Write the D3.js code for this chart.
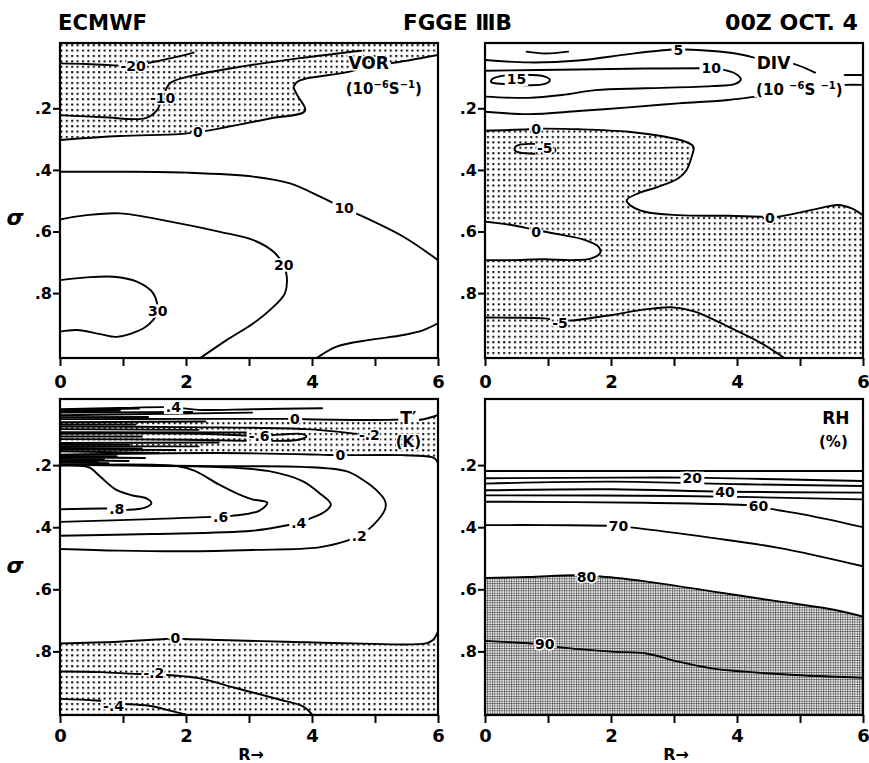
<!DOCTYPE html>
<html><head><meta charset="utf-8">
<script src="https://cdn.jsdelivr.net/npm/d3@7"></script>
<style>
body{margin:0;background:#fff;}
svg text{font-family:"DejaVu Sans",sans-serif;font-weight:bold;fill:#000;}
.cl{font-size:14px;}
.pl{font-size:17px;}
.un{font-size:15px;}
.halo{stroke:#fff;stroke-width:3px;paint-order:stroke;stroke-linejoin:round;}
</style></head><body>
<script>
// ---------------- DATA ----------------
const TITLES = ["ECMWF", "FGGE \u2162B", "00Z OCT. 4"];
const R_TICKS = [0, 1, 2, 3, 4, 5, 6];
const R_TICK_LABELS = ["0", "", "2", "", "4", "", "6"];
const SIGMA_TICKS = [0.2, 0.4, 0.6, 0.8];
const SIGMA_TICK_LABELS = [".2", ".4", ".6", ".8"];

// VOR (10^-6 s^-1) contours, points are [R, sigma]
const vorM20 = [[0,0.054],[0.42,0.056],[0.90,0.061],[1.16,0.064],[1.38,0.054],[1.75,0.038],[2.12,0.019]];
const vorM10 = [[0,0.222],[0.69,0.229],[1.36,0.232],[1.54,0.206],[1.63,0.163],[1.75,0.118],[2.02,0.098],[2.75,0.069],[3.81,0.037],[4.78,0.013]];
const vor0   = [[0,0.303],[0.95,0.290],[1.90,0.284],[2.19,0.277],[2.54,0.265],[3.33,0.233],[3.89,0.208],[3.78,0.162],[3.71,0.130],[3.78,0.112],[3.92,0.103],[4.60,0.081],[4.92,0.060],[5.24,0.054],[6,0.027]];
const vor10  = [[0,0.406],[0.95,0.406],[2.01,0.409],[3.07,0.422],[3.65,0.444],[4.13,0.487],[4.51,0.525],[4.76,0.547],[5.45,0.617],[6,0.693]];
const vor20  = [[0,0.561],[0.42,0.547],[0.95,0.541],[1.75,0.568],[2.54,0.601],[3.07,0.628],[3.39,0.666],[3.55,0.709],[3.60,0.747],[3.57,0.801],[3.39,0.844],[3.07,0.898],[2.65,0.952],[2.22,1.012]];
const vor30  = [[0,0.758],[0.42,0.749],[0.85,0.747],[1.22,0.763],[1.48,0.801],[1.55,0.858],[1.48,0.887],[1.32,0.915],[0.90,0.942],[0.64,0.933],[0.27,0.920],[0,0.925]];
const vor10b = [[4.07,1.012],[4.39,0.974],[4.92,0.952],[5.45,0.936],[5.77,0.920],[6,0.898]];

// DIV (10^-6 s^-1)
const divTop  = [[0.66,0.016],[0.95,0.022],[1.32,0.016]];
const div5a   = [[0,0.043],[0.69,0.051],[1.48,0.045],[2.28,0.024],[2.96,0.009],[3.07,0.009],[3.18,0.009],[3.86,0.019],[4.21,0.032],[4.58,0.050],[4.87,0.054],[5.24,0.084]];
const div5aEnd= [[5.71,0.092],[6,0.092]];
const div10   = [[0,0.078],[1.48,0.074],[2.54,0.071],[3.39,0.070],[3.60,0.070],[3.76,0.074],[3.97,0.087],[4.06,0.106],[3.97,0.121],[3.60,0.128],[2.54,0.135],[1.75,0.141],[1.22,0.157],[0.69,0.166],[0,0.162]];
const div15   = [[0.11,0.106],[0.30,0.094],[0.95,0.097],[1.03,0.108],[0.95,0.121],[0.30,0.121],[0.10,0.115]];
const div5b   = [[0,0.211],[0.69,0.219],[1.48,0.209],[2.28,0.197],[3.07,0.184],[3.86,0.173],[4.29,0.162],[5.0,0.140],[5.71,0.124],[6,0.124]];
const div0a   = [[0,0.273],[0.69,0.268],[0.81,0.266],[0.95,0.266],[1.48,0.268],[2.28,0.276],[2.80,0.290],[3.18,0.308],[3.31,0.325],[3.28,0.357],[3.20,0.400],[3.07,0.427],[2.75,0.455],[2.43,0.476],[2.25,0.498],[2.30,0.514],[2.54,0.536],[3.07,0.547],[3.86,0.549],[4.39,0.552],[4.52,0.555],[4.66,0.552],[5.19,0.530],[5.61,0.514],[5.82,0.525],[6,0.547]];
const divM5loop = [[0.48,0.325],[0.58,0.317],[0.95,0.319],[1.11,0.330],[1.11,0.341],[0.95,0.346],[0.64,0.346],[0.48,0.338]];
const div0b   = [[0,0.568],[0.42,0.579],[0.81,0.595],[1.22,0.611],[1.59,0.628],[1.80,0.649],[1.83,0.669],[1.69,0.687],[1.38,0.693],[0.95,0.690],[0.42,0.693],[0,0.693]];
const divM5   = [[0,0.879],[0.42,0.880],[0.95,0.882],[1.19,0.890],[1.43,0.888],[2.01,0.871],[2.54,0.853],[2.96,0.846],[3.33,0.860],[3.86,0.909],[4.39,0.963],[4.76,1.012]];

// T' (K)
const t04top = [[0,0.020],[0.93,0.016],[1.80,0.014],[2.2,0.022],[3.05,0.020],[4.16,0.017]];
const tCluster = [
  [[0,0.0224],[1.25,0.0181]], [[0,0.0265],[0.95,0.0250]], [[0,0.0309],[2.10,0.0288]], [[0,0.0394],[3.05,0.0309]],
  [[0,0.0455],[1.40,0.0450]], [[0,0.0618],[2.31,0.0597]], [[0,0.0690],[1.20,0.0690]],
  [[0,0.0842],[2.20,0.0864]], [[0,0.0938],[3.00,0.0949]], [[0,0.1080],[1.30,0.1080]],
  [[0,0.129],[2.52,0.127]], [[0,0.1350],[1.10,0.1350]], [[0,0.1397],[2.20,0.1397]],
  [[0,0.1450],[1.30,0.1460]], [[0,0.1503],[1.83,0.1514]], [[0,0.1556],[1.57,0.161]],
  [[0,0.1705],[0.90,0.1715]], [[0,0.1748],[1.35,0.177]], [[0,0.1800],[0.70,0.1810]],
  [[0,0.1844],[1.09,0.1866]], [[0,0.1880],[0.60,0.1890]], [[0,0.1919],[0.77,0.194]]
];
const t0up  = [[0,0.052],[1.99,0.0512],[3.58,0.0512],[3.73,0.0512],[3.90,0.0522],[5.23,0.0544],[5.53,0.052],[5.70,0.0544],[5.89,0.046],[6,0.0384]];
const tM02  = [[0,0.0757],[1.99,0.0778],[3.90,0.0842],[4.70,0.0992],[4.91,0.1045]];
const tM06  = [[0,0.099],[2.20,0.099],[3.00,0.1055],[3.16,0.1077],[3.48,0.102],[3.85,0.100],[3.91,0.1077],[3.79,0.1183],[3.05,0.1215],[1.99,0.1183],[0,0.1162]];
const t0low = [[0,0.1663],[2.52,0.161],[4.11,0.1663],[4.40,0.168],[4.59,0.168],[5.44,0.168],[5.81,0.1716],[5.94,0.177],[6,0.193]];
const t08   = [[0,0.342],[0.77,0.340],[0.90,0.342],[1.09,0.344],[1.35,0.337],[1.45,0.323],[1.38,0.308],[1.14,0.297],[0.88,0.278],[0.66,0.241],[0.48,0.209],[0.40,0.2036],[0,0.2015]];
const t06   = [[0,0.3827],[1.46,0.374],[2.41,0.3667],[2.55,0.3667],[2.73,0.3635],[3.16,0.3475],[3.29,0.3209],[3.05,0.3102],[2.84,0.2942],[2.52,0.2623],[2.15,0.2196],[1.88,0.2036],[0,0.2004]];
const t04   = [[0,0.4275],[1.46,0.422],[3.05,0.4115],[3.63,0.393],[3.79,0.387],[3.95,0.374],[4.22,0.3475],[4.30,0.3262],[4.11,0.289],[3.85,0.2516],[3.32,0.2196],[2.79,0.209],[1.99,0.2036],[0,0.1994]];
const t02   = [[0,0.470],[0.93,0.4755],[1.99,0.4776],[3.05,0.4733],[4.11,0.465],[4.56,0.4435],[4.75,0.4275],[4.96,0.3955],[5.16,0.342],[5.16,0.3156],[5.01,0.2783],[4.80,0.2463],[4.54,0.2196],[3.85,0.2058],[2.52,0.2036],[0,0.197]];
const t0bot = [[0,0.774],[0.93,0.7687],[1.67,0.760],[1.83,0.758],[1.99,0.760],[2.52,0.7633],[3.58,0.7687],[4.64,0.774],[5.81,0.774],[5.92,0.7633],[6,0.7367]];
const tM02b = [[0,0.8646],[0.66,0.8667],[1.30,0.873],[1.49,0.871],[1.67,0.875],[2.20,0.886],[2.79,0.918],[3.48,0.955],[3.85,0.9765],[4.0,1.003]];
const tM04  = [[0,0.953],[0.56,0.958],[0.85,0.963],[1.03,0.9685],[1.46,0.9765],[1.78,0.9925],[1.99,1.003]];

// RH (%)
const rh10 = [[0,0.2188],[3,0.2188],[6,0.2188]];
const rh20 = [[0,0.2425],[2.12,0.2403],[3.29,0.2405],[4.66,0.2457],[6,0.2511]];
const rh30 = [[0,0.2597],[2.01,0.2532],[4.13,0.2619],[6,0.2672]];
const rh40 = [[0,0.2812],[2.01,0.278],[3.81,0.2856],[6,0.2888]];
const rh50 = [[0,0.2974],[3.07,0.2996],[6,0.3103]];
const rh60 = [[0,0.3179],[2.54,0.3211],[4.18,0.3287],[4.34,0.3319],[4.50,0.3394],[5.19,0.3642],[6,0.3998]];
const rh70 = [[0,0.3933],[0.95,0.3933],[1.96,0.3955],[2.12,0.3966],[2.28,0.3998],[3.60,0.4343],[4.66,0.4666],[6,0.5259]];
const rh80 = [[0,0.5636],[0.69,0.5603],[1.43,0.555],[1.61,0.558],[1.77,0.5582],[2.54,0.5744],[3.60,0.6067],[4.66,0.639],[5.45,0.6627],[6,0.6875]];
const rh90 = [[0,0.7662],[0.69,0.7737],[0.95,0.777],[1.11,0.7845],[2.01,0.8006],[2.54,0.806],[3.07,0.833],[3.60,0.8545],[4.13,0.8653],[4.92,0.8761],[6,0.8847]];

// ---------------- LAYOUT ----------------
const W = 869, H = 763;
const COLS = [[60, 438], [485, 863]];
const ROWS = [
  {frame: [43, 358], sig: [46.7, 354.7], pad: 9, sigmaY: 225},
  {frame: [399, 715], sig: [403, 713.5], pad: 6, sigmaY: 573}
];

const rev = a => a.slice().reverse();

const PANELS = [
  {id: "vor", col: 0, row: 0,
   contours: [
     {pts: vorM20, label: "-20", at: [1.16, 0.064]},
     {pts: vorM10, label: "-10", at: [1.63, 0.165]},
     {pts: vor0, label: "0", at: [2.19, 0.277]},
     {pts: vor10, label: "10", at: [4.51, 0.525]},
     {pts: vor20, label: "20", at: [3.55, 0.709]},
     {pts: vor30, label: "30", at: [1.55, 0.858]},
     {pts: vor10b}
   ],
   texts: [
     {t: "VOR", at: [4.90, 0.051], cls: "pl"},
     {units: ["(10", "\u22126", "S", "\u22121", ")"], at: [5.14, 0.135]}
   ],
   shades: [
     {pattern: "stip", path: c => c.line(vor0) + c.L(6, c.s0) + c.L(0, c.s0) + "Z"}
   ]},
  {id: "div", col: 1, row: 0,
   contours: [
     {pts: divTop},
     {pts: div5a, label: "5", at: [3.07, 0.009]},
     {pts: div5aEnd},
     {pts: div10, label: "10", at: [3.59, 0.070]},
     {pts: div15, closed: true, label: "15", at: [0.50, 0.106]},
     {pts: div5b},
     {pts: div0a, label: "0", at: [0.81, 0.266]},
     {pts: divM5loop, closed: true, label: "-5", at: [0.95, 0.329]},
     {pts: div0b, label: "0", at: [0.81, 0.600]},
     {pts: divM5, label: "-5", at: [1.19, 0.896]}
   ],
   extraLabels: [{label: "0", at: [4.52, 0.555]}],
   texts: [
     {t: "DIV", at: [4.58, 0.052], cls: "pl"},
     {units: ["(10 ", "\u22126", "S ", "\u22121", ")"], at: [4.99, 0.139]}
   ],
   shades: [
     {pattern: "stip", path: c => c.line(div0a) + c.L(6, c.s1) + c.L(0, c.s1) + c.cont(rev(div0b)) + "Z"}
   ]},
  {id: "tp", col: 0, row: 1,
   contours: [
     {pts: t04top, label: ".4", at: [1.80, 0.014]},
     ...tCluster.map(p => ({pts: p})),
     {pts: t0up, label: "0", at: [3.73, 0.0512]},
     {pts: tM02, label: "-.2", at: [4.91, 0.1045]},
     {pts: tM06, label: "-.6", at: [3.16, 0.1077]},
     {pts: t0low, label: "0", at: [4.45, 0.168]},
     {pts: t08, label: ".8", at: [0.90, 0.342]},
     {pts: t06, label: ".6", at: [2.55, 0.3667]},
     {pts: t04, label: ".4", at: [3.79, 0.387]},
     {pts: t02, label: ".2", at: [4.75, 0.4275]},
     {pts: t0bot, label: "0", at: [1.83, 0.758]},
     {pts: tM02b, label: "-.2", at: [1.49, 0.871]},
     {pts: tM04, label: "-.4", at: [0.85, 0.975]}
   ],
   texts: [
     {t: "T\u2032", at: [5.53, 0.049], cls: "pl"},
     {t: "(K)", at: [5.53, 0.124], cls: "un"}
   ],
   shades: [
     {pattern: "stip", path: c => c.line(t0up) + c.cont(rev(t0low)) + "Z"},
     {pattern: "stip", path: c => c.line(t0bot) + c.L(6, c.s1) + c.L(0, c.s1) + "Z"}
   ]},
  {id: "rh", col: 1, row: 1,
   contours: [
     {pts: rh10},
     {pts: rh20, label: "20", at: [3.29, 0.2425]},
     {pts: rh30},
     {pts: rh40, label: "40", at: [3.81, 0.2856]},
     {pts: rh50},
     {pts: rh60, label: "60", at: [4.34, 0.3319]},
     {pts: rh70, label: "70", at: [2.12, 0.3966]},
     {pts: rh80, label: "80", at: [1.61, 0.5614]},
     {pts: rh90, label: "90", at: [0.95, 0.777]}
   ],
   texts: [
     {t: "RH", at: [5.57, 0.0485], cls: "pl"},
     {t: "(%)", at: [5.53, 0.124], cls: "un"}
   ],
   shades: [
     {pattern: "grid", path: c => c.line(rh80) + c.L(6, c.s1) + c.L(0, c.s1) + "Z"}
   ]}
];

// ---------------- DRAW ----------------
const svg = d3.select("body").append("svg").attr("width", W).attr("height", H);
const defs = svg.append("defs");
svg.append("rect").attr("width", W).attr("height", H).attr("fill", "#fff");

const stip = defs.append("pattern").attr("id", "stip").attr("patternUnits", "userSpaceOnUse")
  .attr("width", 5.4).attr("height", 5.4);
stip.append("rect").attr("x", 1).attr("y", 1).attr("width", 2).attr("height", 2).attr("fill", "#000");

const grid = defs.append("pattern").attr("id", "grid").attr("patternUnits", "userSpaceOnUse")
  .attr("width", 2.4).attr("height", 2.4);
grid.append("rect").attr("width", 2.4).attr("height", 2.4).attr("fill", "#fff");
grid.append("path").attr("d", "M0,0.5H2.4M0.5,0V2.4").attr("stroke", "#222").attr("stroke-width", 0.55);

function drawPanel(p) {
  const [fx0, fx1] = COLS[p.col];
  const row = ROWS[p.row];
  const [fy0, fy1] = row.frame;
  const x = d3.scaleLinear().domain([0, 6]).range([fx0, fx1]);
  const y = d3.scaleLinear().domain([0, 1]).range(row.sig);
  const s0 = y.invert(fy0), s1 = y.invert(fy1);
  const line = d3.line().x(d => x(d[0])).y(d => y(d[1])).curve(d3.curveCatmullRom.alpha(0.5));
  const lineC = d3.line().x(d => x(d[0])).y(d => y(d[1])).curve(d3.curveCatmullRomClosed.alpha(0.5));
  const ctx = {x, y, s0, s1, line,
    L: (r, s) => `L${x(r)},${y(s)}`,
    cont: pts => line(pts).replace(/^M/, "L")};

  defs.append("clipPath").attr("id", "cp-" + p.id).append("rect")
    .attr("x", fx0).attr("y", fy0).attr("width", fx1 - fx0).attr("height", fy1 - fy0);

  const g = svg.append("g");
  const body = g.append("g").attr("clip-path", `url(#cp-${p.id})`);
  p.shades.forEach(s => body.append("path").attr("d", s.path(ctx))
    .attr("fill", `url(#${s.pattern})`).attr("stroke", "none"));

  const mask = defs.append("mask").attr("id", "mk-" + p.id).attr("maskUnits", "userSpaceOnUse")
    .attr("x", 0).attr("y", 0).attr("width", W).attr("height", H);
  mask.append("rect").attr("width", W).attr("height", H).attr("fill", "#fff");

  const lg = body.append("g").attr("mask", `url(#mk-${p.id})`);
  p.contours.filter(c => c.pts.length > 1).forEach(c => lg.append("path")
    .attr("d", (c.closed ? lineC : line)(c.pts))
    .attr("fill", "none").attr("stroke", "#000").attr("stroke-width", 1.9)
    .attr("stroke-linejoin", "round").attr("stroke-linecap", "round"));

  const tg = g.append("g");
  const labs = p.contours.filter(c => c.label).concat(p.extraLabels || []);
  labs.forEach(c => {
    tg.append("text").attr("class", "cl halo")
      .attr("x", x(c.at[0])).attr("y", y(c.at[1])).attr("dy", "0.36em")
      .attr("text-anchor", "middle").attr("data-cy", y(c.at[1])).attr("data-fs", 14)
      .text(c.label);
  });
  p.texts.forEach(t => {
    const el = tg.append("text").attr("x", x(t.at[0])).attr("y", y(t.at[1]))
      .attr("text-anchor", "middle");
    if (t.units) {
      el.attr("class", "un halo").attr("dy", "0.36em");
      el.append("tspan").text(t.units[0]);
      el.append("tspan").attr("dy", -6).attr("font-size", 10).text(t.units[1]);
      el.append("tspan").attr("dy", 6).text(t.units[2]);
      el.append("tspan").attr("dy", -6).attr("font-size", 10).text(t.units[3]);
      el.append("tspan").attr("dy", 6).text(t.units[4]);
      el.attr("data-full", 1);
    } else {
      el.attr("class", t.cls + " halo").attr("dy", "0.36em")
        .attr("data-cy", y(t.at[1])).attr("data-fs", t.cls === "pl" ? 17 : 15).text(t.t);
    }
  });
  tg.selectAll("text").each(function () {
    const b = this.getBBox();
    const fs = +this.getAttribute("data-fs");
    if (this.getAttribute("data-full")) {
      mask.append("rect").attr("x", b.x - 2).attr("y", b.y + 2).attr("width", b.width + 4)
        .attr("height", b.height - 4).attr("fill", "#000");
    } else {
      const cy = +this.getAttribute("data-cy");
      mask.append("rect").attr("x", b.x - 2).attr("y", cy - 0.47 * fs).attr("width", b.width + 4)
        .attr("height", 0.94 * fs).attr("fill", "#000");
    }
  });

  // frame
  g.append("rect").attr("x", fx0).attr("y", fy0).attr("width", fx1 - fx0).attr("height", fy1 - fy0)
    .attr("fill", "none").attr("stroke", "#000").attr("stroke-width", 2.2);

  // axes
  const ax = g.append("g").attr("transform", `translate(0,${fy1})`)
    .call(d3.axisBottom(x).tickValues(R_TICKS).tickFormat((d, i) => R_TICK_LABELS[i])
      .tickSize(8).tickPadding(row.pad));
  ax.select(".domain").remove();
  ax.selectAll("line").attr("stroke", "#000").attr("stroke-width", 2);
  ax.selectAll("text").style("font-size", "18px").style("fill", "#000");

  const ay = g.append("g").attr("transform", `translate(${fx0},0)`)
    .call(d3.axisLeft(y).tickValues(SIGMA_TICKS).tickFormat((d, i) => SIGMA_TICK_LABELS[i])
      .tickSize(7).tickPadding(1));
  ay.select(".domain").remove();
  ay.selectAll("line").attr("stroke", "#000").attr("stroke-width", 2);
  ay.selectAll("text").style("font-size", "16px").style("fill", "#000");
}

PANELS.forEach(drawPanel);

// titles
const titleSpec = [{x: 58, len: 89}, {x: 403, len: 109}, {x: 725, len: 133}];
TITLES.forEach((t, i) => svg.append("text").attr("x", titleSpec[i].x).attr("y", 30)
  .attr("textLength", titleSpec[i].len).attr("lengthAdjust", "spacingAndGlyphs")
  .style("font-size", "21px").text(t));

// sigma labels
ROWS.forEach(r => svg.append("text").attr("x", 15).attr("y", r.sigmaY).attr("text-anchor", "middle")
  .style("font-size", "22px").style("font-style", "italic").text("\u03c3"));

// R arrows
[251, 676].forEach(cx => svg.append("text").attr("x", cx).attr("y", 760).attr("text-anchor", "middle")
  .style("font-size", "16px").text("R\u2192"));
</script>
</body></html>
